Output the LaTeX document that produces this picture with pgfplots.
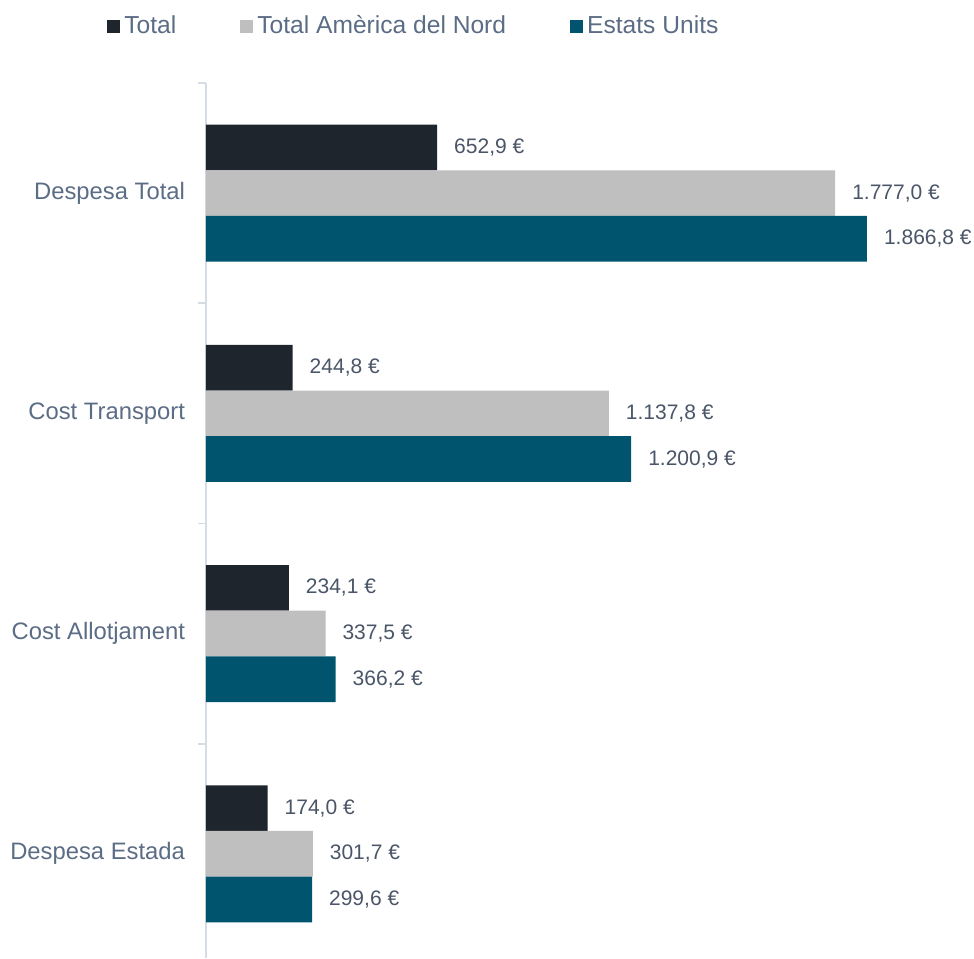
\documentclass[border=0pt]{standalone}
\usepackage{pgfplots}
\pgfplotsset{compat=1.18}
\usepackage{fontspec}
\setmainfont{Liberation Sans}

\definecolor{cTotal}{HTML}{1F252D}
\definecolor{cNord}{HTML}{BFBFBF}
\definecolor{cUS}{HTML}{00546E}
\definecolor{txt}{HTML}{5B6C85}
\definecolor{lbl}{HTML}{4A5568}
\definecolor{axiscol}{HTML}{D6DCE4}

\begin{document}
\begin{tikzpicture}
\begin{axis}[
name=ax,
scale only axis,
width=384pt, height=437.5pt,
xbar,
xmin=0, xmax=2169,
ymin=-0.5, ymax=3.473,
y dir=reverse,
axis x line=none,
axis y line*=left,
y axis line style={draw=axiscol, line width=0.8pt, -},
ytick={0,1,2,3},
yticklabels={Despesa Total, Cost Transport, Cost Allotjament, Despesa Estada},
minor ytick={-0.5,0.5,1.5,2.5},
major tick length=0pt,
minor tick length=4pt,
tick align=outside,
minor tick style={draw=axiscol, line width=0.8pt},
yticklabel style={font=\fontsize{11.9}{13}\selectfont, color=txt, xshift=-7pt},
bar width=0.2075,
/pgf/number format/assume math mode=true,
nodes near coords={\pgfmathprintnumber[fixed, fixed zerofill, precision=1, use comma, 1000 sep={.}]{\pgfplotspointmeta}~€},
every node near coord/.append style={font=\fontsize{10.5}{12}\selectfont, color=lbl, xshift=5pt},
legend columns=3,
legend style={draw=none, fill=none, at={(0.272,1.065)}, anchor=center,
  font=\fontsize{12.3}{14}\selectfont, text=txt,
  /tikz/every even column/.append style={column sep=30pt}},
legend image code/.code={\fill[#1] (0pt,-3.2pt) rectangle (6.5pt,3.2pt);},
]
\addplot[fill=cTotal, draw=none, bar shift=-0.2075] coordinates {
(652.9,0) (244.8,1) (234.1,2) (174.0,3)};
\addlegendentry{Total}
\addplot[fill=cNord, draw=none, bar shift=0] coordinates {
(1777.0,0) (1137.8,1) (337.5,2) (301.7,3)};
\addlegendentry{Total Amèrica del Nord}
\addplot[fill=cUS, draw=none, bar shift=0.2075] coordinates {
(1866.8,0) (1200.9,1) (366.2,2) (299.6,3)};
\addlegendentry{Estats Units}
\end{axis}
\pgfresetboundingbox
\path[use as bounding box] ([xshift=-103pt]ax.south west) rectangle ([yshift=41.5pt]ax.north east);
\end{tikzpicture}
\end{document}
